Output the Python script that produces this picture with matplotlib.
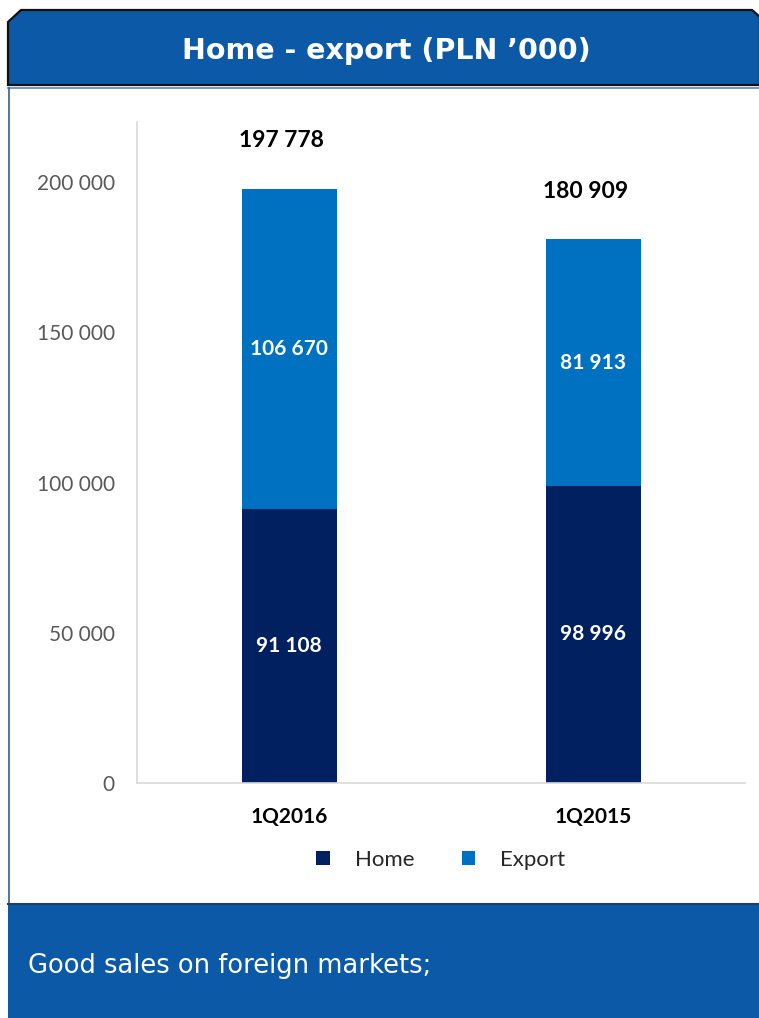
import matplotlib
matplotlib.use("Agg")
import matplotlib.pyplot as plt
from matplotlib.patches import Polygon, Rectangle
import numpy as np

categories = ["1Q2016", "1Q2015"]
home = [91108, 98996]
export = [106670, 81913]
totals = [197778, 180909]
yticks = [0, 50000, 100000, 150000, 200000]
title = "Home - export (PLN \u2019000)"
footer = "Good sales on foreign markets;"

def fmt(v):
    return f"{v:,}".replace(",", " ")

W, H = 759, 1018
fig = plt.figure(figsize=(W / 100, H / 100), dpi=100)

# background decoration axes in pixel coordinates
bg = fig.add_axes([0, 0, 1, 1], zorder=0)
bg.set_xlim(0, W)
bg.set_ylim(H, 0)
bg.axis("off")
blue = "#0B59A7"
# header
bg.add_patch(Polygon([(8, 85), (8, 22), (21, 10), (752, 10), (760, 17), (760, 85)],
                     closed=True, facecolor=blue, edgecolor="#111111", lw=1.6))
bg.plot([8, 760], [88, 88], color="#5B83B3", lw=1.2)
# left border of white panel
bg.plot([9, 9], [88, 903], color="#2F5F90", lw=1.2)
# footer band
bg.add_patch(Rectangle((8, 903), 760, 120, facecolor=blue, edgecolor="none"))
bg.plot([8, 760], [903.5, 903.5], color="#1F3F66", lw=1.5)
bg.text(386, 51, title, color="white", fontsize=20.5, fontweight="bold",
        ha="center", va="center", family="DejaVu Sans")
bg.text(28, 966, footer, color="white", fontsize=18.5, ha="left", va="center",
        family="DejaVu Sans")

# chart axes: x 137..745, y 122..783 (pixels)
ax = fig.add_axes([137 / W, 1 - 783 / H, (745 - 137) / W, (783 - 122) / H], zorder=1)
ax.patch.set_alpha(0)
x = np.arange(len(categories))
bw = 0.3125
c_home = "#002060"
c_exp = "#0070C0"
ax.bar(x, home, width=bw, color=c_home, label="Home")
ax.bar(x, export, width=bw, bottom=home, color=c_exp, label="Export")
ax.set_xlim(-0.5, 1.5)
ax.set_ylim(0, 220000)
ax.set_yticks(yticks)
ax.set_yticklabels([fmt(v) for v in yticks], color="#595959", fontsize=15, family="Lato")
ax.set_xticks(x)
ax.set_xticklabels(categories, fontsize=15, fontweight="bold", family="Lato")
ax.tick_params(axis="y", length=0, pad=16)
ax.tick_params(axis="x", length=0, pad=17)
for s in ["top", "right"]:
    ax.spines[s].set_visible(False)
ax.spines["left"].set_color("#D9D9D9")
ax.spines["bottom"].set_color("#D9D9D9")
ax.spines["left"].set_linewidth(1.2)
ax.spines["bottom"].set_linewidth(1.2)

for i in range(len(categories)):
    ax.text(x[i], home[i] / 2, fmt(home[i]), color="white", fontsize=15,
            fontweight="bold", ha="center", va="center", family="Lato")
    ax.text(x[i], home[i] + export[i] / 2, fmt(export[i]), color="white", fontsize=15,
            fontweight="bold", ha="center", va="center", family="Lato")
    ax.annotate(fmt(totals[i]), (x[i] - 0.025, totals[i]), xytext=(0, 48),
                textcoords="offset pixels", ha="center", va="center",
                fontsize=16.5, fontweight="bold", color="black", family="Lato")

leg = ax.legend(loc="upper center", bbox_to_anchor=(0.5, -0.071), ncol=2,
                frameon=False, prop={"family": "Lato", "size": 16},
                handlelength=0.6, handleheight=0.6, columnspacing=2.1, handletextpad=1.15)
for t in leg.get_texts():
    t.set_color("#262626")

fig.savefig("out.png", dpi=100)
